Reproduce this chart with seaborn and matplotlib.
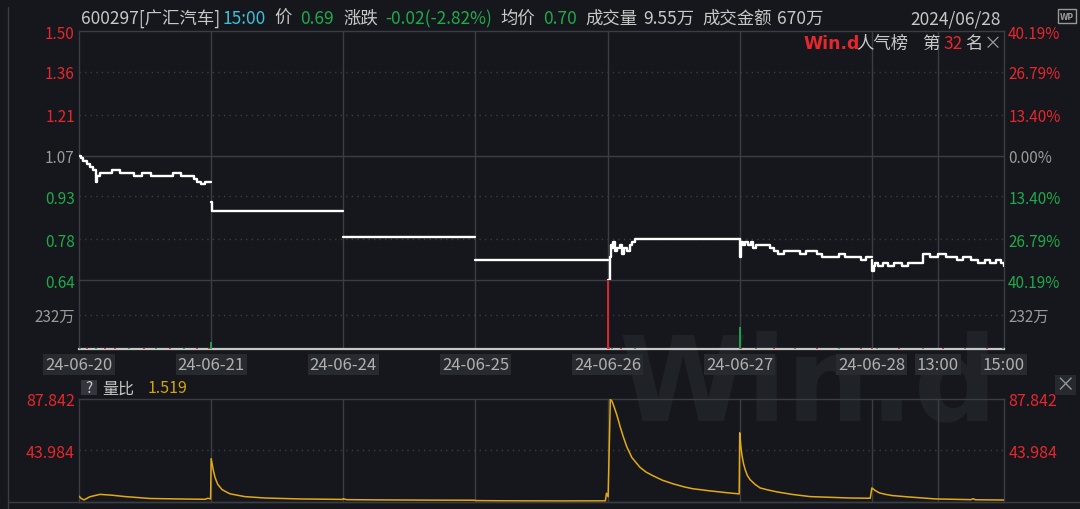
import pandas as pd
import seaborn as sns
import matplotlib.pyplot as plt
from matplotlib.patches import Rectangle

# values; x is the minute index, 240 minutes per trading day
axis_labels = ['24-06-20', '24-06-21', '24-06-24', '24-06-25', '24-06-26',
               '24-06-27', '24-06-28', '13:00', '15:00']
axis_minutes = [0, 240, 480, 720, 960, 1200, 1440, 1560, 1680]

price_ticks = [0.64, 0.78, 0.93, 1.07, 1.21, 1.36, 1.50]
price_tick_labels = ['0.64', '0.78', '0.93', '1.07', '1.21', '1.36', '1.50']
pct_tick_labels = ['40.19%', '26.79%', '13.40%', '0.00%', '13.40%', '26.79%', '40.19%']

# intraday price, one list pair per day
d1_min = [0, 3, 8, 14, 20, 26, 30, 32, 38, 50, 60, 75, 90, 100, 115, 130, 150,
          170, 185, 200, 208, 215, 222, 228, 235, 240]
d1_px = [1.07, 1.06, 1.05, 1.04, 1.03, 1.02, 0.98, 1.00, 1.01, 1.01, 1.02, 1.01,
         1.01, 1.00, 1.01, 1.00, 1.00, 1.01, 1.00, 1.00, 0.99, 0.98, 0.97, 0.98,
         0.98, 0.98]
d2_min = [240, 241, 480]
d2_px = [0.91, 0.88, 0.88]
d3_min = [480, 720]
d3_px = [0.79, 0.79]
d4_min = [720, 960]
d4_px = [0.71, 0.71]
d5_min = [960, 963, 964, 966, 968, 970, 974, 978, 982, 986, 990, 995, 1000,
          1004, 1010, 1200]
d5_px = [0.64, 0.64, 0.72, 0.76, 0.75, 0.77, 0.74, 0.75, 0.76, 0.73, 0.75, 0.74,
         0.76, 0.77, 0.78, 0.78]
d6_min = [1200, 1201, 1203, 1206, 1210, 1215, 1220, 1225, 1230, 1240, 1250, 1255,
          1262, 1270, 1280, 1290, 1300, 1310, 1320, 1330, 1340, 1350, 1360, 1370,
          1380, 1392, 1400, 1410, 1420, 1430, 1440]
d6_px = [0.78, 0.72, 0.77, 0.76, 0.77, 0.76, 0.77, 0.75, 0.76, 0.76, 0.76, 0.75,
         0.74, 0.73, 0.74, 0.74, 0.74, 0.73, 0.74, 0.74, 0.73, 0.72, 0.72, 0.72,
         0.73, 0.72, 0.72, 0.72, 0.71, 0.72, 0.72]
d7_min = [1440, 1441, 1443, 1446, 1452, 1460, 1470, 1480, 1495, 1505, 1520, 1532,
          1533, 1545, 1560, 1575, 1585, 1595, 1605, 1620, 1632, 1645, 1655, 1665,
          1675, 1680]
d7_px = [0.71, 0.67, 0.69, 0.70, 0.69, 0.70, 0.69, 0.70, 0.69, 0.70, 0.70, 0.70,
         0.73, 0.72, 0.73, 0.72, 0.72, 0.71, 0.72, 0.71, 0.70, 0.71, 0.70, 0.71,
         0.70, 0.69]

# volume (万股) and bar colour
vol_min = [2, 15, 30, 47, 66, 90, 118, 140, 165, 190, 215, 236, 240,
           960, 962, 968, 985, 1010, 1200, 1203, 1230, 1262, 1300, 1340, 1380,
           1420, 1440, 1450, 1490, 1533, 1570, 1610, 1650, 1679]
vol_val = [7, 4, 5, 4, 6, 4, 5, 4, 4, 5, 4, 6, 48,
           560, 14, 8, 6, 5, 150, 10, 6, 7, 5, 6, 5, 5, 8, 6, 5, 7, 5, 5, 4, 6]
vol_col = ['g', 'r', 'g', 'r', 'r', 'g', 'r', 'g', 'r', 'g', 'r', 'r', 'g',
           'r', 'r', 'g', 'r', 'g', 'g', 'r', 'g', 'r', 'g', 'r', 'g',
           'r', 'r', 'g', 'r', 'g', 'r', 'g', 'r', 'g']

# 量比 (volume ratio)
ratio_min = [0, 4, 9, 20, 38, 60, 84, 129, 180, 229, 234, 239,
             240, 244, 247, 252, 260, 274, 301, 338, 401, 479,
             480, 486, 540, 640, 719,
             720, 780, 880, 956, 958, 961,
             963, 965, 968, 972, 977, 983, 989, 995, 1004, 1019, 1030, 1042, 1060,
             1079, 1100, 1115, 1146, 1175, 1199,
             1200, 1202, 1204, 1207, 1210, 1214, 1219, 1228, 1237, 1252, 1268, 1295,
             1328, 1400, 1437,
             1440, 1446, 1454, 1465, 1477, 1507, 1556, 1620, 1624, 1628, 1680]
ratio_val = [5.0, 3.0, 1.8, 4.5, 6.5, 5.8, 4.6, 3.0, 2.6, 2.3, 3.2, 2.6,
             37.0, 27.0, 21.0, 15.0, 10.5, 7.0, 4.6, 3.4, 2.6, 2.2,
             2.8, 2.0, 1.8, 1.6, 1.5,
             1.2, 1.0, 0.9, 1.0, 7.5, 4.5,
             45.6, 87.5, 86.0, 81.0, 74.0, 64.0, 55.0, 47.0, 38.0, 29.5, 25.5, 22.5, 18.5,
             15.5, 12.8, 11.3, 9.5, 8.0, 6.9,
             59.0, 48.0, 40.0, 32.5, 27.5, 22.5, 19.0, 15.0, 12.0, 10.2, 8.6, 6.5,
             4.6, 3.4, 3.2,
             12.0, 9.8, 7.7, 6.5, 5.5, 4.3, 2.6, 2.0, 2.8, 1.9, 1.7]
ratio_ticks = [43.984, 87.842]
ratio_tick_labels = ['43.984', '87.842']

BG = '#15171c'
GRID = '#3a3d43'
RED = '#e8262d'
GREEN = '#1faa4a'
GREY = '#9a9a9a'
LIGHT = '#c8c8c8'
CYAN = '#3fbfd9'
GOLD = '#e3a915'
W, H = 1080, 510


def fx(px):
    return px / W


def fy(py):
    return 1 - py / H


def style_box(ax, color=GRID):
    for s in ax.spines.values():
        s.set_visible(True)
        s.set_color(color)
        s.set_linewidth(1.0)
    ax.set_xlim(0, 1680)
    ax.set_xlabel('')
    ax.set_ylabel('')
    ax.tick_params(length=0, labelsize=11)
    for m in axis_minutes[1:-1]:
        ax.axvline(m, color=GRID, lw=1.0, zorder=1)


sns.set_style('dark', rc={'axes.facecolor': 'none', 'figure.facecolor': BG,
                          'axes.edgecolor': GRID, 'axes.grid': False})
plt.rcParams['font.family'] = ['Noto Sans CJK SC', 'DejaVu Sans']

fig = plt.figure(figsize=(10.8, 5.1), dpi=100)
fig.patch.set_facecolor(BG)

# big watermark behind everything
fig.text(fx(808), fy(388), 'Win.d', fontsize=84, fontweight='bold', color='#1f2227',
         ha='center', va='center', family='DejaVu Sans', zorder=-1)

# frame lines around the panel
fig.add_artist(plt.Line2D([fx(8), fx(8)], [fy(8), 0], color=GRID, lw=1.0))
fig.add_artist(plt.Line2D([fx(8), 1], [fy(503), fy(503)], color=GRID, lw=1.0))

# ---- price panel ----
ax_p = fig.add_axes([fx(79), fy(281), fx(925), 249 / H])
frames = []
for i, (m, p) in enumerate([(d1_min, d1_px), (d2_min, d2_px), (d3_min, d3_px),
                            (d4_min, d4_px), (d5_min, d5_px), (d6_min, d6_px),
                            (d7_min, d7_px)]):
    frames.append(pd.DataFrame({'minute': m, 'price': p, 'day': i}))
price_df = pd.concat(frames)
sns.lineplot(data=price_df, x='minute', y='price', units='day', estimator=None,
             drawstyle='steps-post', color='white', lw=1.7, ax=ax_p, zorder=5)
ax_p.set_ylim(0.64, 1.50)
style_box(ax_p)
for t in price_ticks[1:-1]:
    if t == 1.07:
        ax_p.axhline(t, color=GRID, lw=1.0, zorder=1)
    else:
        ax_p.axhline(t, color=GRID, lw=1.0, ls=(0, (1, 3)), zorder=1)
ax_p.set_xticks([])
ax_p.set_yticks(price_ticks)
ax_p.set_yticklabels(price_tick_labels)
ax_p.tick_params(axis='y', pad=3)
ax_p2 = ax_p.secondary_yaxis('right')
ax_p2.set_yticks(price_ticks)
ax_p2.set_yticklabels(pct_tick_labels)
ax_p2.tick_params(length=0, pad=3, labelsize=11)
ax_p2.spines['right'].set_visible(False)
for lab_list in (ax_p.get_yticklabels(), ax_p2.get_yticklabels()):
    for lab, t in zip(lab_list, price_ticks):
        lab.set_color(RED if t > 1.07 else (GREEN if t < 1.07 else GREY))

# ---- volume panel ----
ax_v = fig.add_axes([fx(79), fy(350), fx(925), 69 / H])
ax_v.vlines(vol_min, 0, vol_val, colors=[RED if c == 'r' else GREEN for c in vol_col],
            lw=1.3, zorder=4)
ax_v.set_ylim(0, 464)
style_box(ax_v)
ax_v.spines['top'].set_visible(False)
ax_v.spines['bottom'].set_color('#c8c8c8')
ax_v.spines['bottom'].set_linewidth(1.6)
ax_v.axhline(232, color=GRID, lw=1.0, ls=(0, (1, 3)), zorder=1)
ax_v.set_yticks([232])
ax_v.set_yticklabels(['232万'])
ax_v.tick_params(axis='y', pad=3, labelright=True, colors=GREY)
ax_v.set_xticks(axis_minutes)
ax_v.set_xticklabels(axis_labels)
ax_v.tick_params(axis='x', pad=5, labelsize=12, colors='#b0b0b0')
for lab in ax_v.get_xticklabels():
    lab.set_bbox(dict(facecolor='#272a2f', edgecolor='none', pad=1.5))

# ---- 量比 panel ----
ax_r = fig.add_axes([fx(79), fy(503), fx(925), 103 / H])
sns.lineplot(x=ratio_min, y=ratio_val, color=GOLD, lw=1.1, ax=ax_r, zorder=5)
ax_r.set_ylim(0, 87.842)
style_box(ax_r)
ax_r.axhline(43.984, color=GRID, lw=1.0, ls=(0, (1, 3)), zorder=1)
ax_r.set_xticks([])
ax_r.set_yticks(ratio_ticks)
ax_r.set_yticklabels(ratio_tick_labels)
ax_r.tick_params(axis='y', pad=3, labelright=True, colors=RED, labelsize=11.5)

# ---- header line ----
header = [(81, '600297[广汇汽车]', LIGHT), (223, '15:00', CYAN), (274, '价', LIGHT),
          (300, '0.69', GREEN), (343, '涨跌', LIGHT), (385, '-0.02(-2.82%)', GREEN),
          (500, '均价', LIGHT), (543, '0.70', GREEN), (585, '成交量', LIGHT),
          (643, '9.55万', LIGHT), (702, '成交金额', LIGHT), (777, '670万', LIGHT)]
for x, s, c in header:
    fig.text(fx(x), fy(19), s, color=c, fontsize=12.5, ha='left', va='center')
fig.text(fx(1001), fy(19), '2024/06/28', color=LIGHT, fontsize=12.5,
         ha='right', va='center')

# popularity badge
fig.text(fx(803), fy(44), 'Win.d', color=RED, fontsize=12.5, fontweight='bold',
         ha='left', va='center', family='DejaVu Sans')
fig.text(fx(856), fy(44), '人气榜', color=LIGHT, fontsize=12.5, ha='left', va='center')
fig.text(fx(922), fy(44), '第', color=LIGHT, fontsize=12.5, ha='left', va='center')
fig.text(fx(943), fy(44), '32', color=RED, fontsize=12.5, ha='left', va='center')
fig.text(fx(965), fy(44), '名', color=LIGHT, fontsize=12.5, ha='left', va='center')
fig.text(fx(984), fy(44), '×', color=GREY, fontsize=13, ha='left', va='center')

# WP icon
fig.add_artist(Rectangle((fx(1058), fy(24)), fx(18), 14 / H, facecolor='none',
                         edgecolor=GREY, lw=1.0))
fig.text(fx(1067), fy(17), 'WP', color=GREY, fontsize=5.5, ha='center', va='center',
         family='DejaVu Sans', fontweight='bold')

# 量比 legend
fig.add_artist(Rectangle((fx(81), fy(396)), fx(16), 15 / H, facecolor='#33363c',
                         edgecolor='none'))
fig.text(fx(89), fy(389), '?', color=LIGHT, fontsize=11, ha='center', va='center')
fig.text(fx(102), fy(389), '量比', color=LIGHT, fontsize=11.5, ha='left', va='center')
fig.text(fx(148), fy(389), '1.519', color='#d4a40f', fontsize=11.5, ha='left',
         va='center')

# close box on the right
fig.add_artist(Rectangle((fx(1055), fy(396)), fx(21), 20 / H, facecolor='#26292e',
                         edgecolor='none'))
fig.text(fx(1065.5), fy(386), '×', color=GREY, fontsize=14, ha='center', va='center')

fig.savefig('out.png', dpi=100, facecolor=BG)
